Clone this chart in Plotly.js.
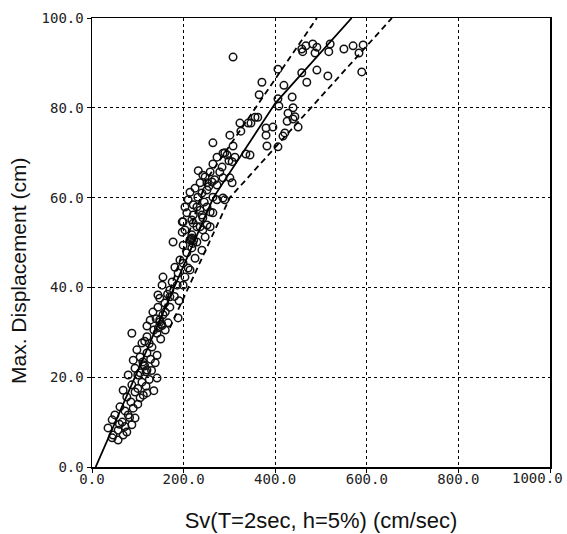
<!DOCTYPE html>
<html>
<head>
<meta charset="utf-8">
<script src="https://cdn.plot.ly/plotly-3.0.1.min.js"></script>
<style>html,body{margin:0;padding:0;background:#fff;}#chart{width:567px;height:534px;}</style>
</head>
<body>
<div id="chart"></div>
<script>
// Observed records: Sv (cm/sec) and maximum displacement (cm)
const obsSv = [
308,458,467,482,491,460,520,517,487,550,570,592,583,589,491,515,458,469,406,371,
419,365,406,408,437,428,439,426,439,450,417,395,380,380,382,406,356,362,347,341,
323,325,301,308,336,345,312,264,286,295,443,421,299,273,264,284,258,279,247,286,
301,262,273,236,225,214,251,286,264,231,210,203,229,251,264,221,240,199,221,251,
236,290,306,242,306,251,273,290,221,236,258,207,218,242,197,229,258,203,242,218,
214,177,229,218,222,199,218,240,207,225,199,181,210,188,203,155,175,153,186,199,
170,148,159,144,197,247,192,214,144,170,133,155,188,127,148,166,120,170,87,120,
142,109,131,98,120,142,90,111,138,94,120,79,100,142,109,87,68,94,120,76,
105,61,90,79,94,50,44,66,87,35,57,76,46,68,44,57,115,125,105,128,
115,130,105,125,118,100,135,112,85,100,72,82,60,72,150,160,135,145,153,140,
165,180,190,160,245,255,268,240,232,148,152,216,220,112,118
];
const obsDisp = [
91.3,93.1,93.8,94.2,93.5,92.5,94.2,92.5,92.2,93.1,93.8,94.0,92.2,88.0,88.4,87.1,87.8,85.7,88.6,85.7,
85.0,82.9,82.0,80.4,82.4,78.8,80.0,77.0,77.5,75.7,73.7,75.7,75.5,73.9,71.5,71.3,77.9,77.9,76.6,76.6,
76.6,74.8,73.9,71.5,69.7,69.5,69.0,72.2,69.9,69.5,78.0,74.4,68.2,69.0,67.5,66.8,65.7,65.7,64.6,64.4,
64.4,63.5,62.8,63.3,62.1,61.2,61.7,59.9,60.1,60.1,59.5,57.9,57.9,57.9,56.6,56.1,56.1,54.6,54.3,53.9,
53.5,70.0,68.0,65.0,63.3,63.3,59.5,59.5,58.4,57.2,56.8,56.6,55.0,55.5,54.6,53.5,53.5,52.8,52.8,51.7,
50.6,50.1,50.1,51.0,50.5,49.4,48.8,48.3,47.7,46.5,45.4,44.5,44.3,43.2,42.3,42.3,41.2,40.5,40.5,40.5,
39.4,37.6,36.5,35.6,52.3,51.2,46.1,43.9,38.3,37.9,34.5,33.9,33.2,32.7,32.3,32.1,31.4,35.6,29.8,29.0,
29.8,27.6,26.7,26.1,25.4,24.9,23.8,23.4,23.2,22.0,21.6,20.5,20.5,19.8,18.9,18.3,17.1,16.7,16.5,15.6,
15.4,13.4,13.1,11.6,10.9,11.6,10.5,10.0,9.4,8.7,8.2,7.8,7.1,7.1,6.5,6.0,28.0,27.5,24.5,24.0,
22.5,21.5,21.0,19.5,18.0,17.5,17.0,16.0,14.5,14.0,12.5,11.0,9.5,9.0,28.5,30.5,30.5,31.0,31.5,33.0,
38.5,38.0,37.0,34.5,59.0,62.5,64.0,61.0,66.0,32.8,31.8,50.8,49.8,22.8,21.2
];
// Regression (solid) and bounds (dashed)
const fitSv = [8, 265, 400, 567];
const fitDisp = [0, 60, 81, 100];
const upperSv = [150, 250, 491];
const upperDisp = [33, 64, 100];
const lowerSv = [170, 301, 655];
const lowerDisp = [31, 60, 100];
const xTicks = [0, 200, 400, 600, 800, 1000];
const xTickText = ["0.0", "200.0", "400.0", "600.0", "800.0", ""];
const lastXTickText = "1000.0";
const yTicks = [0, 20, 40, 60, 80, 100];
const yTickText = ["0.0", "20.0", "40.0", "60.0", "80.0", "100.0"];
const xTitle = 'Sv(T=2sec, h=5%) (cm/sec)';
const yTitle = 'Max. Displacement (cm)';

const traces = [
  {x: obsSv, y: obsDisp, type: 'scatter', mode: 'markers',
   marker: {symbol: 'circle-open', size: 7.5, color: '#111', line: {width: 1.5, color: '#111'}}},
  {x: fitSv, y: fitDisp, type: 'scatter', mode: 'lines', line: {color: '#000', width: 1.8}},
  {x: upperSv, y: upperDisp, type: 'scatter', mode: 'lines', line: {color: '#000', width: 1.8, dash: '6px,4px'}},
  {x: lowerSv, y: lowerDisp, type: 'scatter', mode: 'lines', line: {color: '#000', width: 1.8, dash: '6px,4px'}}
];
const tickFont = {family: 'DejaVu Sans Mono, monospace', size: 14, color: '#222'};
const titleFont = {family: 'Liberation Sans, Arial, sans-serif', size: 22, color: '#111'};
const layout = {
  width: 567, height: 534,
  margin: {l: 92, r: 17, t: 18, b: 67},
  paper_bgcolor: '#fff', plot_bgcolor: '#fff',
  showlegend: false,
  xaxis: {
    range: [0, 1000], tickvals: xTicks, ticktext: xTickText,
    tickfont: tickFont, ticks: 'outside', ticklen: 4, tickcolor: '#000', tickwidth: 1,
    ticklabelstandoff: -5,
    showline: true, mirror: true, linecolor: '#000', linewidth: 1.5,
    showgrid: true, gridcolor: '#000', gridwidth: 1, griddash: 'dot', zeroline: false,
    title: {text: xTitle, font: titleFont, standoff: 26}
  },
  yaxis: {
    range: [0, 100], tickvals: yTicks, ticktext: yTickText,
    tickfont: tickFont, ticks: 'outside', ticklen: 4, tickcolor: '#000', tickwidth: 1,
    showline: true, mirror: true, linecolor: '#000', linewidth: 1.5,
    showgrid: true, gridcolor: '#000', gridwidth: 1, griddash: 'dot', zeroline: false
  },
  annotations: [{
    text: yTitle, xref: 'paper', yref: 'paper', x: -0.1616, y: 0.4365,
    xanchor: 'center', yanchor: 'middle', textangle: -90, showarrow: false,
    font: {family: 'Liberation Sans, Arial, sans-serif', size: 21, color: '#111'}
  }, {
    text: lastXTickText, xref: 'paper', yref: 'paper', x: 1.033, y: -0.0245,
    xanchor: 'right', yanchor: 'middle', showarrow: false,
    font: tickFont
  }]
};
Plotly.newPlot('chart', traces, layout, {staticPlot: true, displayModeBar: false});
</script>
</body>
</html>
